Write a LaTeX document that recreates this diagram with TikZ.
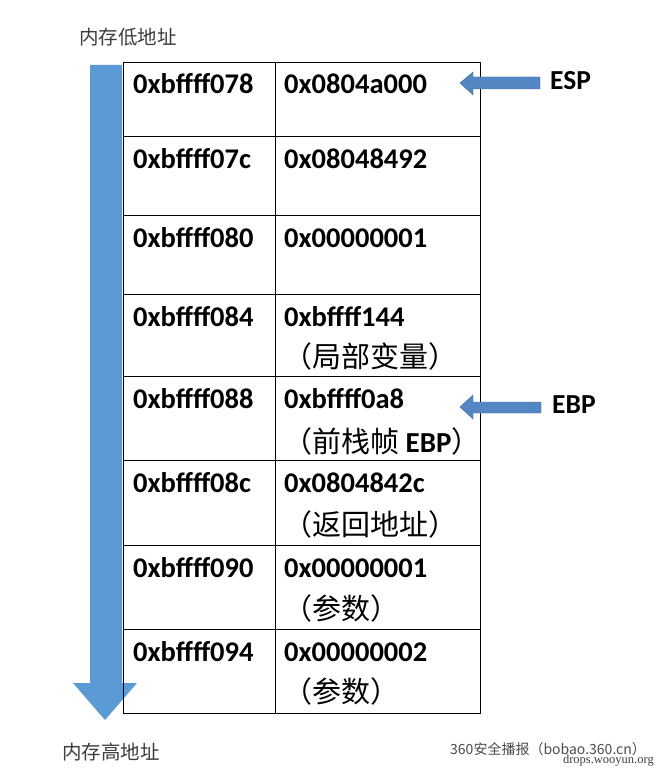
\documentclass[tikz,border=0pt]{standalone}
\usepackage{fontspec}
\newfontfamily\calb{Carlito}[BoldFont={* Bold}]
\newfontfamily\cjk{Noto Sans CJK SC}
\newfontfamily\wmserif{Liberation Serif}
\definecolor{bigblue}{RGB}{91,155,213}
\definecolor{smallblue}{RGB}{84,134,196}
\definecolor{captxt}{RGB}{60,60,60}
\begin{document}
\begin{tikzpicture}[x=1pt,y=-1pt,
  grid/.style={draw=black,line width=0.9pt},
  hexval/.style={anchor=base west,inner sep=0pt,font=\calb\bfseries\fontsize{28.5}{28.5}\selectfont},
  note/.style={anchor=base west,inner sep=0pt,font=\cjk\fontsize{29}{29}\selectfont},
  reglbl/.style={anchor=base west,inner sep=0pt,font=\calb\bfseries\fontsize{27.5}{27.5}\selectfont},
  caption/.style={inner sep=0pt,text=captxt,font=\cjk\fontsize{19.5}{19.5}\selectfont},
  blockarrow/.style={fill=smallblue,draw=smallblue!80!black,line width=0.4pt}]
\useasboundingbox (0,0) rectangle (658,770);
\fill[white] (0,0) rectangle (658,770);

% big downward arrow
\fill[bigblue] (90,65) -- (122,65) -- (122,683) -- (137,683) -- (105,720) -- (73,683) -- (90,683) -- cycle;

% table
\draw[grid] (123,62) rectangle (480,713);
\draw[grid] (275,62) -- (275,713);
\foreach \yy in {136,215,294,376,460,545,629}
  \draw[grid] (123,\yy) -- (480,\yy);

% column 1
\node[hexval] (a1) at (133,94)  {0xbffff078};
\node[hexval] (a2) at (133,168) {0xbffff07c};
\node[hexval] (a3) at (133,247) {0xbffff080};
\node[hexval] (a4) at (133,326) {0xbffff084};
\node[hexval] (a5) at (133,408) {0xbffff088};
\node[hexval] (a6) at (133,492) {0xbffff08c};
\node[hexval] (a7) at (133,577) {0xbffff090};
\node[hexval] (a8) at (133,661) {0xbffff094};

% column 2
\node[hexval] (v1) at (284,94)  {0x0804a000};
\node[hexval] (v2) at (284,168) {0x08048492};
\node[hexval] (v3) at (284,247) {0x00000001};
\node[hexval] (v4) at (284,326) {0xbffff144};
\node[note]   (n4) at (283,367) {（局部变量）};
\node[hexval] (v5) at (284,408) {0xbffff0a8};
\node[note]   (n5) at (283,452) {（前栈帧 {\calb\bfseries EBP}）};
\node[hexval] (v6) at (284,492) {0x0804842c};
\node[note]   (n6) at (283,535) {（返回地址）};
\node[hexval] (v7) at (284,577) {0x00000001};
\node[note]   (n7) at (283,619) {（参数）};
\node[hexval] (v8) at (284,661) {0x00000002};
\node[note]   (n8) at (283,702) {（参数）};

% ESP / EBP pointers
\node[reglbl] (esp) at (550,90)  {ESP};
\node[reglbl] (ebp) at (552,413) {EBP};
\draw[blockarrow] (540,77) -- (473,77) -- (473,72) -- (460,83) -- (473,95) -- (473,89) -- (540,89) -- cycle;
\draw[blockarrow] (541,402) -- (473,402) -- (473,395) -- (460,407) -- (473,419) -- (473,413) -- (541,413) -- cycle;

% captions
\node[caption] (low) at (128,37) {内存低地址};
\node[caption] (high) at (111,752) {内存高地址};

% watermark
\node[inner sep=0pt,anchor=base west,text=black!70,font=\cjk\fontsize{14}{14}\selectfont] (wm1) at (450,754) {360安全播报（bobao.360.cn）};
\node[inner sep=0pt,anchor=base east,text=black!75,font=\wmserif\fontsize{12.5}{12.5}\selectfont] (wm2) at (654,763) {drops.wooyun.org};
\end{tikzpicture}
\end{document}
